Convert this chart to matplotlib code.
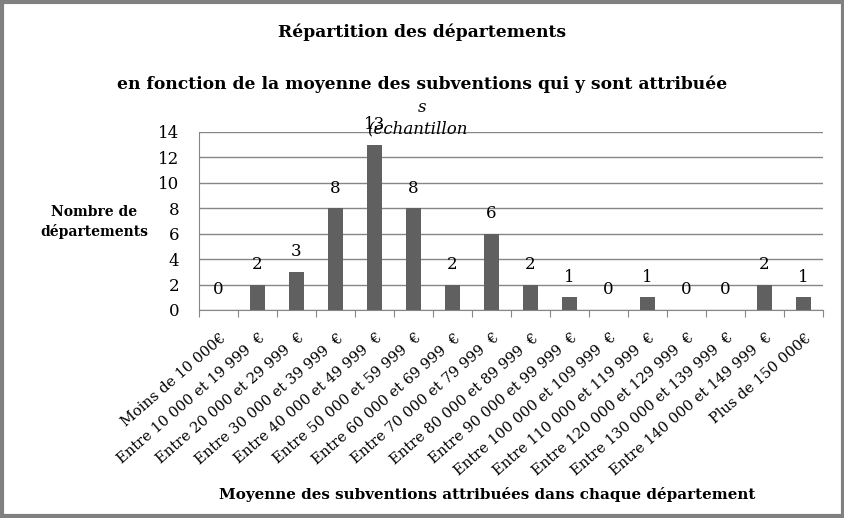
import matplotlib.pyplot as plt
from matplotlib.patches import Rectangle

# Data
categories = [
    "Moins de 10 000€",
    "Entre 10 000 et 19 999  €",
    "Entre 20 000 et 29 999  €",
    "Entre 30 000 et 39 999  €",
    "Entre 40 000 et 49 999  €",
    "Entre 50 000 et 59 999  €",
    "Entre 60 000 et 69 999  €",
    "Entre 70 000 et 79 999  €",
    "Entre 80 000 et 89 999  €",
    "Entre 90 000 et 99 999  €",
    "Entre 100 000 et 109 999  €",
    "Entre 110 000 et 119 999  €",
    "Entre 120 000 et 129 999  €",
    "Entre 130 000 et 139 999  €",
    "Entre 140 000 et 149 999  €",
    "Plus de 150 000€",
]
counts = [0, 2, 3, 8, 13, 8, 2, 6, 2, 1, 0, 1, 0, 0, 2, 1]
yticks = [0, 2, 4, 6, 8, 10, 12, 14]

plt.rcParams['font.family'] = ['DejaVu Serif']

fig = plt.figure(figsize=(8.45, 5.18), dpi=100)
ax = fig.add_axes([199 / 845, 1 - 310 / 518, 624 / 845, 178 / 518])

x = list(range(len(categories)))
ax.bar(x, counts, width=0.41, color='#606060', zorder=3)
for xi, v in zip(x, counts):
    ax.annotate(str(v), xy=(xi, v), xytext=(0, 14.5), textcoords='offset points',
                ha='center', va='center', fontsize=12, zorder=4)

ax.set_xlim(-0.5, len(categories) - 0.5)
ax.set_ylim(0, 14)
ax.set_yticks(yticks)
ax.tick_params(axis='y', length=0, labelsize=12, pad=14)
ax.yaxis.grid(True, color='#868686', linewidth=1)
ax.set_axisbelow(True)

for s in ['top', 'right']:
    ax.spines[s].set_visible(False)
ax.spines['left'].set_color('#868686')
ax.spines['bottom'].set_color('#868686')

# ticks at category boundaries
ax.set_xticks([i - 0.5 for i in range(len(categories) + 1)])
ax.set_xticklabels([])
ax.tick_params(axis='x', length=5, color='#868686')
for xi, lab in zip(x, categories):
    ax.annotate(lab, xy=(xi, 0), xycoords=('data', 'axes fraction'),
                xytext=(1, -15), textcoords='offset points',
                rotation=41, ha='right', va='top', rotation_mode='anchor',
                fontsize=10.5)

fig.text(422 / 845, 1 - 32 / 518, "Répartition des départements", ha='center', va='center',
         fontsize=12.3, fontweight='bold')
fig.text(422 / 845, 1 - 84 / 518, "en fonction de la moyenne des subventions qui y sont attribuée",
         ha='center', va='center', fontsize=12.3, fontweight='bold')
fig.text(422 / 845, 1 - 107 / 518, "s", ha='center', va='center', fontsize=12, style='italic')
fig.text(418 / 845, 1 - 130 / 518, "(échantillon", ha='center', va='center', fontsize=12,
         style='italic')

fig.text(94 / 845, 1 - 222 / 518, "Nombre de\ndépartements", ha='center', va='center',
         fontsize=10, fontweight='bold', linespacing=1.4)
fig.text(487 / 845, 1 - 495 / 518, "Moyenne des subventions attribuées dans chaque département",
         ha='center', va='center', fontsize=10.9, fontweight='bold')

fig.patches.append(Rectangle((0.002, 0.003), 0.996, 0.994, transform=fig.transFigure,
                             fill=False, edgecolor='#808080', linewidth=3))

fig.savefig('out.png', dpi=100)
